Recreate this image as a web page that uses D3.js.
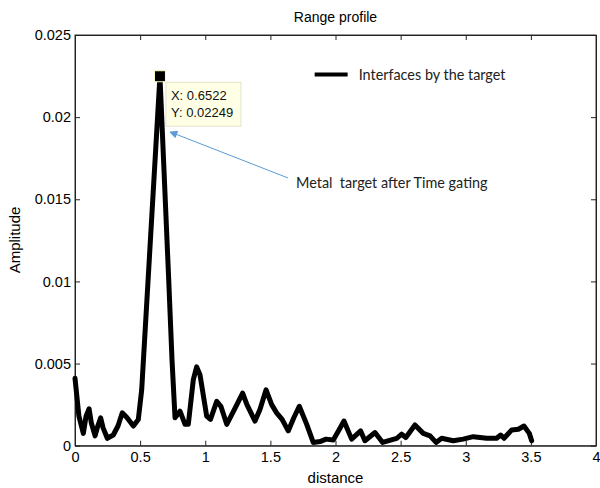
<!DOCTYPE html>
<html>
<head>
<meta charset="utf-8">
<script src="https://cdn.jsdelivr.net/npm/d3@7"></script>
<style>
	body { margin: 0; background: #fff; }
	.axis text { font-family: "Liberation Sans", Arial, sans-serif; font-size: 14.5px; fill: #000; }
	.axis path, .axis line { stroke: #222; }
	.line { fill: none; stroke: #000; stroke-width: 5px; stroke-linejoin: round; stroke-linecap: round; }
</style>
</head>
<body>
<div id="chart"></div>
<script>

// range profile
var distance = [0, 0.03, 0.064, 0.085, 0.108, 0.125, 0.154, 0.175, 0.197, 0.215, 0.248, 0.294, 0.33, 0.363,
	0.4, 0.448, 0.486, 0.512, 0.6522, 0.72, 0.745, 0.768, 0.806, 0.845, 0.87, 0.908, 0.934, 0.96,
	1.011, 1.04, 1.088, 1.12, 1.165, 1.23, 1.287, 1.32, 1.382, 1.42, 1.467, 1.51, 1.548, 1.59,
	1.637, 1.68, 1.722, 1.779, 1.829, 1.881, 1.927, 1.983, 2.03, 2.065, 2.124, 2.193, 2.226,
	2.303, 2.362, 2.47, 2.508, 2.54, 2.61, 2.674, 2.726, 2.772, 2.815, 2.904, 2.98, 3.058,
	3.161, 3.237, 3.268, 3.294, 3.353, 3.404, 3.447, 3.488, 3.506];
var amplitude = [0.0041, 0.0018, 0.00075, 0.0018, 0.00225, 0.0014, 0.0006, 0.0012, 0.0017, 0.0011, 0.00045, 0.00065, 0.0012, 0.002,
	0.0017, 0.0012, 0.0016, 0.0034, 0.02249, 0.01, 0.0052, 0.0017, 0.0021, 0.0013, 0.0013, 0.004, 0.0048, 0.0043,
	0.0018, 0.0016, 0.0027, 0.0024, 0.0013, 0.0023, 0.0032, 0.0025, 0.0015, 0.0022, 0.0034, 0.0025, 0.002, 0.0016,
	0.0009, 0.0017, 0.0024, 0.0013, 0.0002, 0.00025, 0.0004, 0.00035, 0.001, 0.0015, 0.0004, 0.0009, 0.0003,
	0.0008, 0.0002, 0.00045, 0.0007, 0.0005, 0.00126, 0.00075, 0.0006, 0.0002, 0.00045, 0.0003, 0.0004, 0.00055,
	0.00045, 0.00045, 0.00065, 0.00045, 0.00096, 0.001, 0.0012, 0.00075, 0.0003];

var xTicks = [0, 0.5, 1, 1.5, 2, 2.5, 3, 3.5, 4];
var yTicks = [0, 0.005, 0.01, 0.015, 0.02, 0.025];

var peakIndex = 18;
var seriesName = "Interfaces by the target";
var noteText = "Metal  target after Time gating";

var margin = {top: 35, right: 4, bottom: 42.3, left: 75},
	width = 600 - margin.left - margin.right,
	height = 488 - margin.top - margin.bottom;

var data = distance.map(function(d, i) { return [d, amplitude[i]]; });

//set ranges
var x = d3.scaleLinear().domain([0, 4]).range([0, width]);
var y = d3.scaleLinear().domain([0, 0.025]).range([height, 0]);

var line = d3.line()
	.x(function(d) { return x(d[0]); })
	.y(function(d) { return y(d[1]); });

var fmt = function(d) { return String(+d.toFixed(3)); };

var svg = d3.select("#chart").append("svg")
	.attr("width", 600)
	.attr("height", 488);

var g = svg.append("g")
	.attr("transform", "translate(" + margin.left + "," + margin.top + ")");

// frame
g.append("rect")
	.attr("width", width)
	.attr("height", height)
	.attr("fill", "none")
	.attr("stroke", "#333");

// Add the X Axis
g.append("g")
	.attr("class", "axis")
	.attr("transform", "translate(0," + height + ")")
	.call(d3.axisBottom(x).tickValues(xTicks).tickFormat(fmt).tickSize(-5).tickSizeOuter(0).tickPadding(6));

g.append("g")
	.attr("class", "axis")
	.call(d3.axisTop(x).tickValues(xTicks).tickFormat("").tickSize(-5).tickSizeOuter(0));

// Add the Y Axis
g.append("g")
	.attr("class", "axis")
	.call(d3.axisLeft(y).tickValues(yTicks).tickFormat(fmt).tickSize(-5).tickSizeOuter(0).tickPadding(4));

g.append("g")
	.attr("class", "axis")
	.attr("transform", "translate(" + width + ",0)")
	.call(d3.axisRight(y).tickValues(yTicks).tickFormat("").tickSize(-5).tickSizeOuter(0));

g.selectAll(".axis .domain").attr("stroke", "#111");

g.append("path")
	.datum(data)
	.attr("class", "line")
	.attr("d", line);

// titles
svg.append("text")
	.attr("x", margin.left + width / 2)
	.attr("y", 22)
	.attr("text-anchor", "middle")
	.style("font-family", "Liberation Sans, Arial, sans-serif")
	.style("font-size", "14px")
	.text("Range profile");

svg.append("text")
	.attr("x", margin.left + width / 2)
	.attr("y", 483)
	.attr("text-anchor", "middle")
	.style("font-family", "Liberation Sans, Arial, sans-serif")
	.style("font-size", "15px")
	.text("distance");

svg.append("text")
	.attr("transform", "translate(20," + (margin.top + 205) + ") rotate(-90)")
	.attr("text-anchor", "middle")
	.style("font-family", "Liberation Sans, Arial, sans-serif")
	.style("font-size", "15px")
	.text("Amplitude");

// legend
var legend = g.append("g")
	.attr("transform", "translate(" + (x(1.84)) + "," + (y(0.0225) - 1.5) + ")");

legend.append("line")
	.attr("x1", 0)
	.attr("x2", 33)
	.attr("stroke", "#000")
	.attr("stroke-width", 4);

legend.append("text")
	.attr("x", 44)
	.attr("dy", "0.35em")
	.style("font-family", "Lato, sans-serif")
	.style("font-size", "14.4px")
	.style("fill", "#222")
	.text(seriesName);

// data tip on the peak
var peak = data[peakIndex];
var px = x(peak[0]), py = y(peak[1]);

var tip = g.append("g")
	.attr("transform", "translate(" + px + "," + py + ")");

tip.append("rect")
	.attr("x", 6)
	.attr("y", 6)
	.attr("width", 75)
	.attr("height", 44)
	.attr("fill", "#ffffe6")
	.attr("stroke", "#e4e4cc");

tip.append("rect")
	.attr("x", -5.5)
	.attr("y", -5.5)
	.attr("width", 11)
	.attr("height", 11)
	.attr("fill", "#000")
	.attr("stroke", "#ffffc8")
	.attr("stroke-width", 1);

tip.selectAll("text.tip")
	.data(["X: " + peak[0].toFixed(4), "Y: " + peak[1]])
	.enter().append("text")
	.attr("class", "tip")
	.attr("x", 11)
	.attr("y", function(d, i) { return 24 + i * 16.5; })
	.style("font-family", "Liberation Sans, Arial, sans-serif")
	.style("font-size", "13px")
	.style("fill", "#111")
	.text(function(d) { return d; });

// arrow and note
svg.append("defs").append("marker")
	.attr("id", "head")
	.attr("viewBox", "0 0 10 10")
	.attr("refX", 9)
	.attr("refY", 5)
	.attr("markerWidth", 10)
	.attr("markerHeight", 8)
	.attr("markerUnits", "userSpaceOnUse")
	.attr("orient", "auto")
	.append("path")
	.attr("d", "M0,0L10,5L0,10z")
	.attr("fill", "#5b9bd5");

g.append("line")
	.attr("x1", x(1.635))
	.attr("y1", y(0.0163))
	.attr("x2", x(0.73))
	.attr("y2", y(0.0191))
	.attr("stroke", "#5b9bd5")
	.attr("stroke-width", 1)
	.attr("marker-end", "url(#head)");

g.append("text")
	.attr("x", x(1.697))
	.attr("y", y(0.0157))
	.style("font-family", "Lato, sans-serif")
	.style("font-size", "14.4px")
	.style("fill", "#222")
	.style("white-space", "pre")
	.text(noteText);

</script>
</body>
</html>
